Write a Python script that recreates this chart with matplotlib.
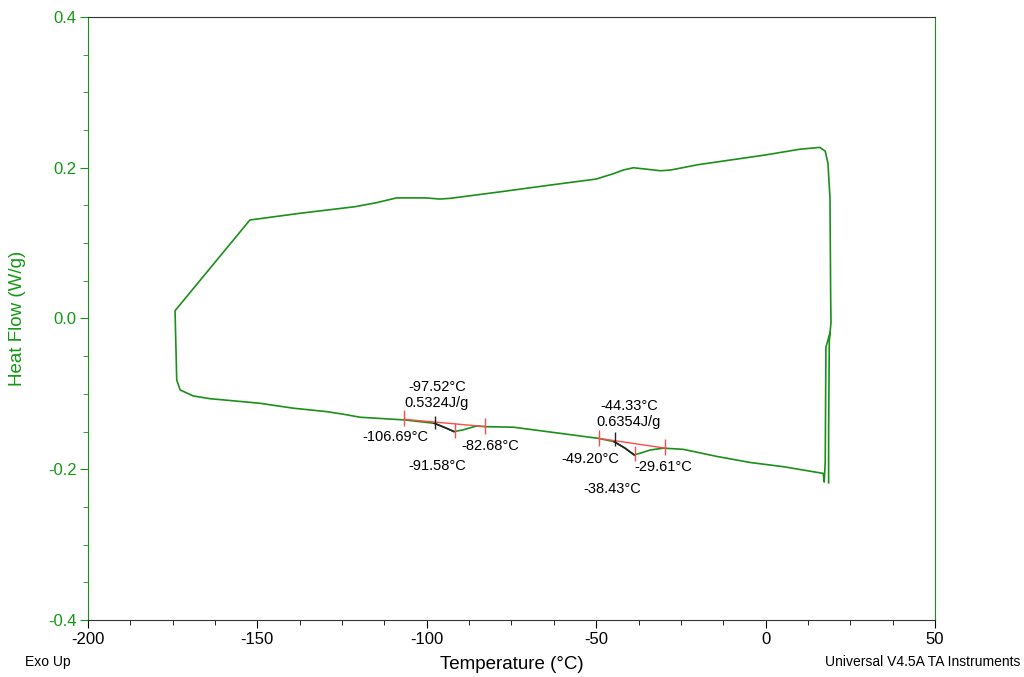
import matplotlib.pyplot as plt
from matplotlib.ticker import MultipleLocator

#### DATA ####
# DSC loop: top run, left side, bottom run, right side
temp = [18.6, 18.6, 18.8, 19.3, 19.2, 19.0, 18.4, 17.6, 16.0, 10.0, 0.0,
        -20.0, -28.0, -31.0, -35.0, -39.0, -42.0, -45.0, -50.0, -63.6, -78.4,
        -93.1, -96.1, -100.5, -108.9, -114.8, -121.2, -137.4, -150.0, -152.2,
        -174.3, -173.8, -172.8, -168.9, -164.0, -154.2, -149.2, -143.8, -139.4,
        -129.5, -124.6, -119.7, -109.9, -106.7, -97.8, -94.5, -92.0, -89.5,
        -85.3, -82.8, -74.5, -64.6, -49.4, -44.7, -41.5, -38.8, -36.5, -34.1,
        -30.2, -24.3, -14.4, -4.6, 5.2, 17.0, 17.3, 17.6, 17.8, 19.0]
heat_flow = [-0.218, -0.15, -0.03, -0.005, 0.03, 0.16, 0.206, 0.222, 0.227,
             0.2245, 0.217, 0.204, 0.197, 0.196, 0.198, 0.200, 0.197, 0.192,
             0.185, 0.177, 0.168, 0.1594, 0.1585, 0.160, 0.160, 0.1537, 0.1483,
             0.1396, 0.132, 0.1307, 0.0103, -0.0816, -0.0948, -0.1028, -0.1064,
             -0.1104, -0.1125, -0.1161, -0.119, -0.1236, -0.127, -0.131, -0.1337,
             -0.1345, -0.139, -0.145, -0.150, -0.148, -0.1426, -0.1435, -0.1442,
             -0.150, -0.159, -0.1634, -0.172, -0.181, -0.178, -0.1745, -0.172,
             -0.1736, -0.183, -0.191, -0.1966, -0.2055, -0.217, -0.19, -0.038,
             -0.019]

# darker part of each peak (analysis marker to minimum)
peak1_T = [-97.8, -94.5, -92.0]
peak1_HF = [-0.139, -0.145, -0.150]
peak2_T = [-44.7, -41.5, -38.8]
peak2_HF = [-0.1634, -0.172, -0.181]

# integration baselines
base1_T = [-106.69, -82.68]
base1_HF = [-0.1337, -0.1435]
base2_T = [-49.20, -29.61]
base2_HF = [-0.159, -0.172]

# marker ticks (temperature, centre heat flow)
red_T = [-106.69, -91.58, -82.68, -49.20, -38.43, -29.61]
red_HF = [-0.132, -0.1485, -0.1425, -0.159, -0.179, -0.171]
black_T = [-97.52, -44.33]
black_HF = [-0.138, -0.160]

# labels: text, x, y
labels = ["-97.52°C\n0.5324J/g", "-106.69°C", "-91.58°C", "-82.68°C",
          "-44.33°C\n0.6354J/g", "-49.20°C", "-38.43°C", "-29.61°C"]
label_x = [-97.0, -109.4, -97.0, -81.3, -40.3, -51.8, -45.3, -30.3]
label_y = [-0.101, -0.157, -0.196, -0.169, -0.1267, -0.1864, -0.2262, -0.197]

green = '#1a8f1a'
text_green = '#129912'
red = '#ff4a4a'

plt.rcParams['font.family'] = ['Liberation Sans', 'DejaVu Sans']
plt.rcParams['axes.unicode_minus'] = False

fig = plt.figure(figsize=(10.24, 6.77), dpi=100)
ax = fig.add_axes([0.0859, 0.0842, 0.8272, 0.8907])

ax.plot(temp, heat_flow, color=green, lw=1.2)
ax.plot(peak1_T, peak1_HF, color='#222222', lw=1.2)
ax.plot(peak2_T, peak2_HF, color='#222222', lw=1.2)
ax.plot(base1_T, base1_HF, color=red, lw=1.0)
ax.plot(base2_T, base2_HF, color=red, lw=1.0)
ax.vlines(red_T, [h - 0.0105 for h in red_HF], [h + 0.0105 for h in red_HF],
          color=red, lw=1.0)
ax.vlines(black_T, [h - 0.009 for h in black_HF], [h + 0.009 for h in black_HF],
          color='#222222', lw=1.0)

for txt, x, y in zip(labels, label_x, label_y):
    ax.text(x, y, txt, fontsize=10.5, ha='center', va='center',
            linespacing=1.2)

ax.set_xlim(-200, 50)
ax.set_ylim(-0.4, 0.4)
ax.xaxis.set_major_locator(MultipleLocator(50))
ax.xaxis.set_minor_locator(MultipleLocator(12.5))
ax.yaxis.set_major_locator(MultipleLocator(0.2))
ax.yaxis.set_minor_locator(MultipleLocator(0.05))
ax.yaxis.set_major_formatter(plt.FormatStrFormatter('%.1f'))

ax.tick_params(axis='x', which='major', length=6, labelsize=12, pad=3)
ax.tick_params(axis='x', which='minor', length=3.5)
ax.tick_params(axis='y', which='major', length=6, labelsize=12,
               colors=text_green, pad=2)
ax.tick_params(axis='y', which='minor', length=3.5, colors=green)

ax.spines['left'].set_color(green)
ax.spines['right'].set_color(green)
ax.spines['top'].set_color('#333333')
ax.spines['bottom'].set_color('#333333')

ax.set_xlabel('Temperature (°C)', fontsize=13.5, labelpad=6)
ax.set_ylabel('Heat Flow (W/g)', fontsize=13.5, color=text_green, labelpad=16)

fig.text(25 / 1024, 1 - 662 / 677, 'Exo Up', fontsize=10, va='center')
fig.text(1020 / 1024, 1 - 662 / 677, 'Universal V4.5A TA Instruments',
         fontsize=10, va='center', ha='right')

fig.savefig('out.png', dpi=100)
